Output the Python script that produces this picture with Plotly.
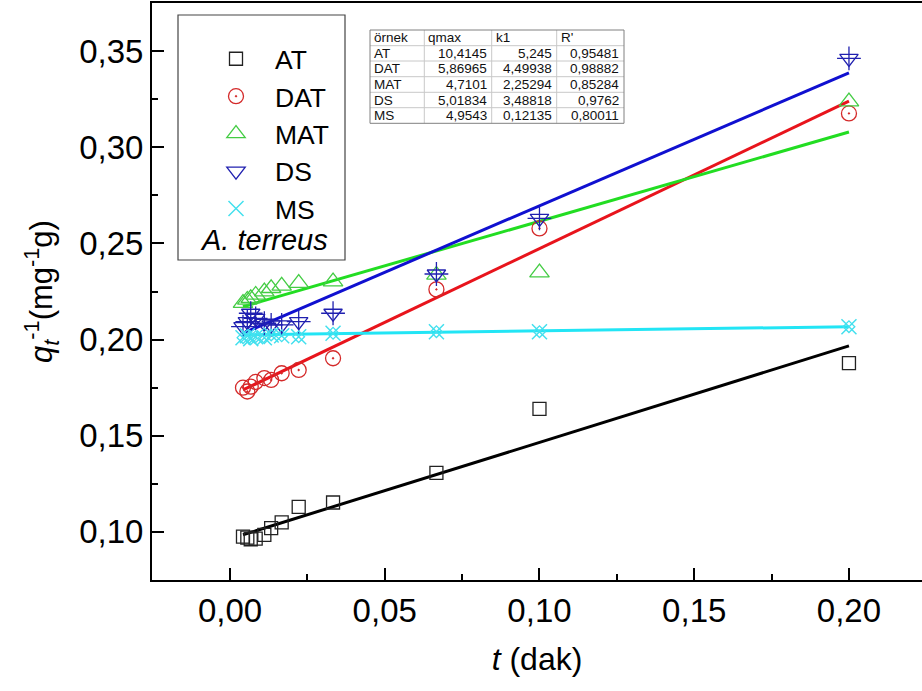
import plotly.graph_objects as go

# ---- data ----
x_vals = [0.2, 0.1, 0.0667, 0.0333, 0.0222, 0.0167, 0.0133, 0.0111, 0.0083, 0.0067, 0.0056, 0.0042]
at_y  = [0.1878, 0.164, 0.1307, 0.1153, 0.113, 0.105, 0.102, 0.0985, 0.0965, 0.0962, 0.097, 0.0975]
dat_y = [0.3176, 0.2578, 0.2261, 0.1903, 0.1842, 0.1825, 0.179, 0.180, 0.178, 0.1755, 0.173, 0.175]
mat_y = [0.3237, 0.2348, 0.2336, 0.2301, 0.2294, 0.2279, 0.2267, 0.2249, 0.2232, 0.2215, 0.2206, 0.219]
ds_y  = [0.3462, 0.263, 0.2341, 0.2137, 0.2093, 0.2076, 0.2076, 0.2085, 0.211, 0.2137, 0.2093, 0.2067]
ms_y  = [0.2067, 0.2041, 0.2041, 0.2033, 0.2015, 0.202, 0.2024, 0.201, 0.2015, 0.2005, 0.202, 0.201]

fit_x = [0.0042, 0.2]
at_fit  = [0.0985, 0.1967]
dat_fit = [0.1738, 0.3240]
mat_fit = [0.2171, 0.3079]
ds_fit  = [0.2033, 0.3387]
ms_fit  = [0.2024, 0.2067]

table_header = ["örnek", "qmax", "k1", "R'"]
table_names = ["AT", "DAT", "MAT", "DS", "MS"]
table_qmax = ["10,4145", "5,86965", "4,7101", "5,01834", "4,9543"]
table_k1 = ["5,245", "4,49938", "2,25294", "3,48818", "0,12135"]
table_r = ["0,95481", "0,98882", "0,85284", "0,9762", "0,80011"]

x_ticks = [0.0, 0.05, 0.10, 0.15, 0.20]
y_ticks = [0.10, 0.15, 0.20, 0.25, 0.30, 0.35]

FONT = "Liberation Sans, Arial, sans-serif"

fig = go.Figure()

# fit lines
for fy, col in [(at_fit, "#000000"), (dat_fit, "#e8141c"), (mat_fit, "#22dd22"),
                (ds_fit, "#1010d0"), (ms_fit, "#22e5f5")]:
    fig.add_trace(go.Scatter(x=fit_x, y=fy, mode="lines", line=dict(color=col, width=3),
                             showlegend=False, hoverinfo="skip"))

# markers
fig.add_trace(go.Scatter(x=x_vals, y=at_y, mode="markers", name="AT", legendgroup="AT",
                         marker=dict(symbol="square-open", size=13, color="#222222", line=dict(width=1.3))))
fig.add_trace(go.Scatter(x=x_vals, y=dat_y, mode="markers", name="DAT", legendgroup="DAT",
                         marker=dict(symbol="circle-open-dot", size=15, color="#d42a2a", line=dict(width=1.3))))
fig.add_trace(go.Scatter(x=x_vals, y=mat_y, mode="markers", name="MAT", legendgroup="MAT",
                         marker=dict(symbol="triangle-up-open", size=17, color="#44cc44", line=dict(width=1.3))))
fig.add_trace(go.Scatter(x=x_vals, y=ds_y, mode="markers", name="DS", legendgroup="DS",
                         marker=dict(symbol="triangle-down-open", size=16, color="#2020b0", line=dict(width=1.3))))
fig.add_trace(go.Scatter(x=x_vals, y=ds_y, mode="markers", name="DS", legendgroup="DS", showlegend=False,
                         marker=dict(symbol="cross-thin-open", size=17, color="#2020b0", line=dict(width=1.3))))
fig.add_trace(go.Scatter(x=x_vals, y=ms_y, mode="markers", name="MS", legendgroup="MS",
                         marker=dict(symbol="x-thin-open", size=15, color="#44e0ee", line=dict(width=1.5))))
fig.add_trace(go.Scatter(x=x_vals, y=ms_y, mode="markers", name="MS", legendgroup="MS", showlegend=False,
                         marker=dict(symbol="diamond-open", size=9, color="#44e0ee", line=dict(width=1.3))))

L, R, T, B = 152, 0, 3, 111
W, H = 922, 691
pw, ph = W - L - R, H - T - B

def px(xp):
    return (xp - L) / pw

def py(yp):
    return (H - B - yp) / ph

# ---- table (drawn with shapes + annotations) ----
col_edges = [370, 424.3, 491.7, 556.7, 624]
row_edges = [30, 45.7, 61, 76.7, 92.3, 107.7, 123.3]
shapes = []
annotations = []
for xe in col_edges[1:-1]:
    shapes.append(dict(type="line", xref="paper", yref="paper", x0=px(xe), x1=px(xe),
                       y0=py(row_edges[0]), y1=py(row_edges[-1]), line=dict(color="#c8c8c8", width=1)))
for ye in row_edges[1:-1]:
    shapes.append(dict(type="line", xref="paper", yref="paper", x0=px(col_edges[0]), x1=px(col_edges[-1]),
                       y0=py(ye), y1=py(ye), line=dict(color="#c8c8c8", width=1)))
shapes.append(dict(type="rect", xref="paper", yref="paper", x0=px(col_edges[0]), x1=px(col_edges[-1]),
                   y0=py(row_edges[-1]), y1=py(row_edges[0]), line=dict(color="#808080", width=1),
                   fillcolor="rgba(0,0,0,0)"))
columns = [table_names, table_qmax, table_k1, table_r]
TFS = 13.5
for ci, head in enumerate(table_header):
    annotations.append(dict(text=head, xref="paper", yref="paper", showarrow=False,
                            x=px(col_edges[ci] + 2), y=py((row_edges[0] + row_edges[1]) / 2),
                            xanchor="left", yanchor="middle",
                            font=dict(family=FONT, size=TFS, color="#111111")))
    for ri, val in enumerate(columns[ci]):
        yc = py((row_edges[ri + 1] + row_edges[ri + 2]) / 2)
        if ci == 0:
            annotations.append(dict(text=val, xref="paper", yref="paper", showarrow=False,
                                    x=px(col_edges[ci] + 2), y=yc, xanchor="left", yanchor="middle",
                                    font=dict(family=FONT, size=TFS, color="#111111")))
        else:
            annotations.append(dict(text=val, xref="paper", yref="paper", showarrow=False,
                                    x=px(col_edges[ci + 1] - 3), y=yc, xanchor="right", yanchor="middle",
                                    font=dict(family=FONT, size=TFS, color="#111111")))

# legend box + caption
shapes.append(dict(type="rect", xref="paper", yref="paper",
                   x0=px(178), x1=px(345), y0=py(260), y1=py(15),
                   line=dict(color="#444444", width=1.2), fillcolor="rgba(0,0,0,0)", layer="above"))
annotations.append(dict(text="<i>A. terreus</i>", xref="paper", yref="paper",
                        x=px(264), y=py(240), xanchor="center", yanchor="middle", showarrow=False,
                        font=dict(family=FONT, size=29, color="black")))

fig.update_layout(
    width=W, height=H,
    margin=dict(l=L, r=R, t=T, b=B, autoexpand=False),
    paper_bgcolor="white", plot_bgcolor="white",
    separators=",.",
    font=dict(family=FONT, color="black"),
    showlegend=True,
    legend=dict(x=px(197), y=py(35), xanchor="left", yanchor="top",
                bgcolor="rgba(0,0,0,0)", borderwidth=0, itemwidth=68,
                font=dict(family=FONT, size=26.5, color="black"),
                traceorder="grouped", tracegroupgap=0, itemsizing="trace"),
    xaxis=dict(range=[-0.0252, 0.2236], tickvals=x_ticks, tickformat=".2f", automargin=False,
               showline=True, linewidth=2, linecolor="black", mirror=True,
               ticks="inside", ticklen=12, tickwidth=2, tickcolor="black",
               minor=dict(ticks="inside", ticklen=6, tickwidth=2, dtick=0.025, tick0=0, tickcolor="black"),
               showgrid=False, zeroline=False,
               tickfont=dict(family=FONT, size=33),
               title=dict(text="<i>t</i> (dak)", font=dict(family=FONT, size=32), standoff=20)),
    yaxis=dict(range=[0.075, 0.375], tickvals=y_ticks, tickformat=".2f", automargin=False,
               showline=True, linewidth=2, linecolor="black", mirror=False,
               ticks="inside", ticklen=12, tickwidth=2, tickcolor="black",
               minor=dict(ticks="inside", ticklen=6, tickwidth=2, dtick=0.025, tick0=0, tickcolor="black"),
               showgrid=False, zeroline=False,
               tickfont=dict(family=FONT, size=33),
               title=dict(text="<i>q<sub>t</sub></i><sup>-1</sup>(mg<sup>-1</sup>g)",
                          font=dict(family=FONT, size=31), standoff=17)),
    shapes=shapes,
    annotations=annotations,
)

fig.write_html("out.html", config={"displayModeBar": False},
               post_script="document.body.style.margin='0px';document.body.style.overflow='hidden';")
